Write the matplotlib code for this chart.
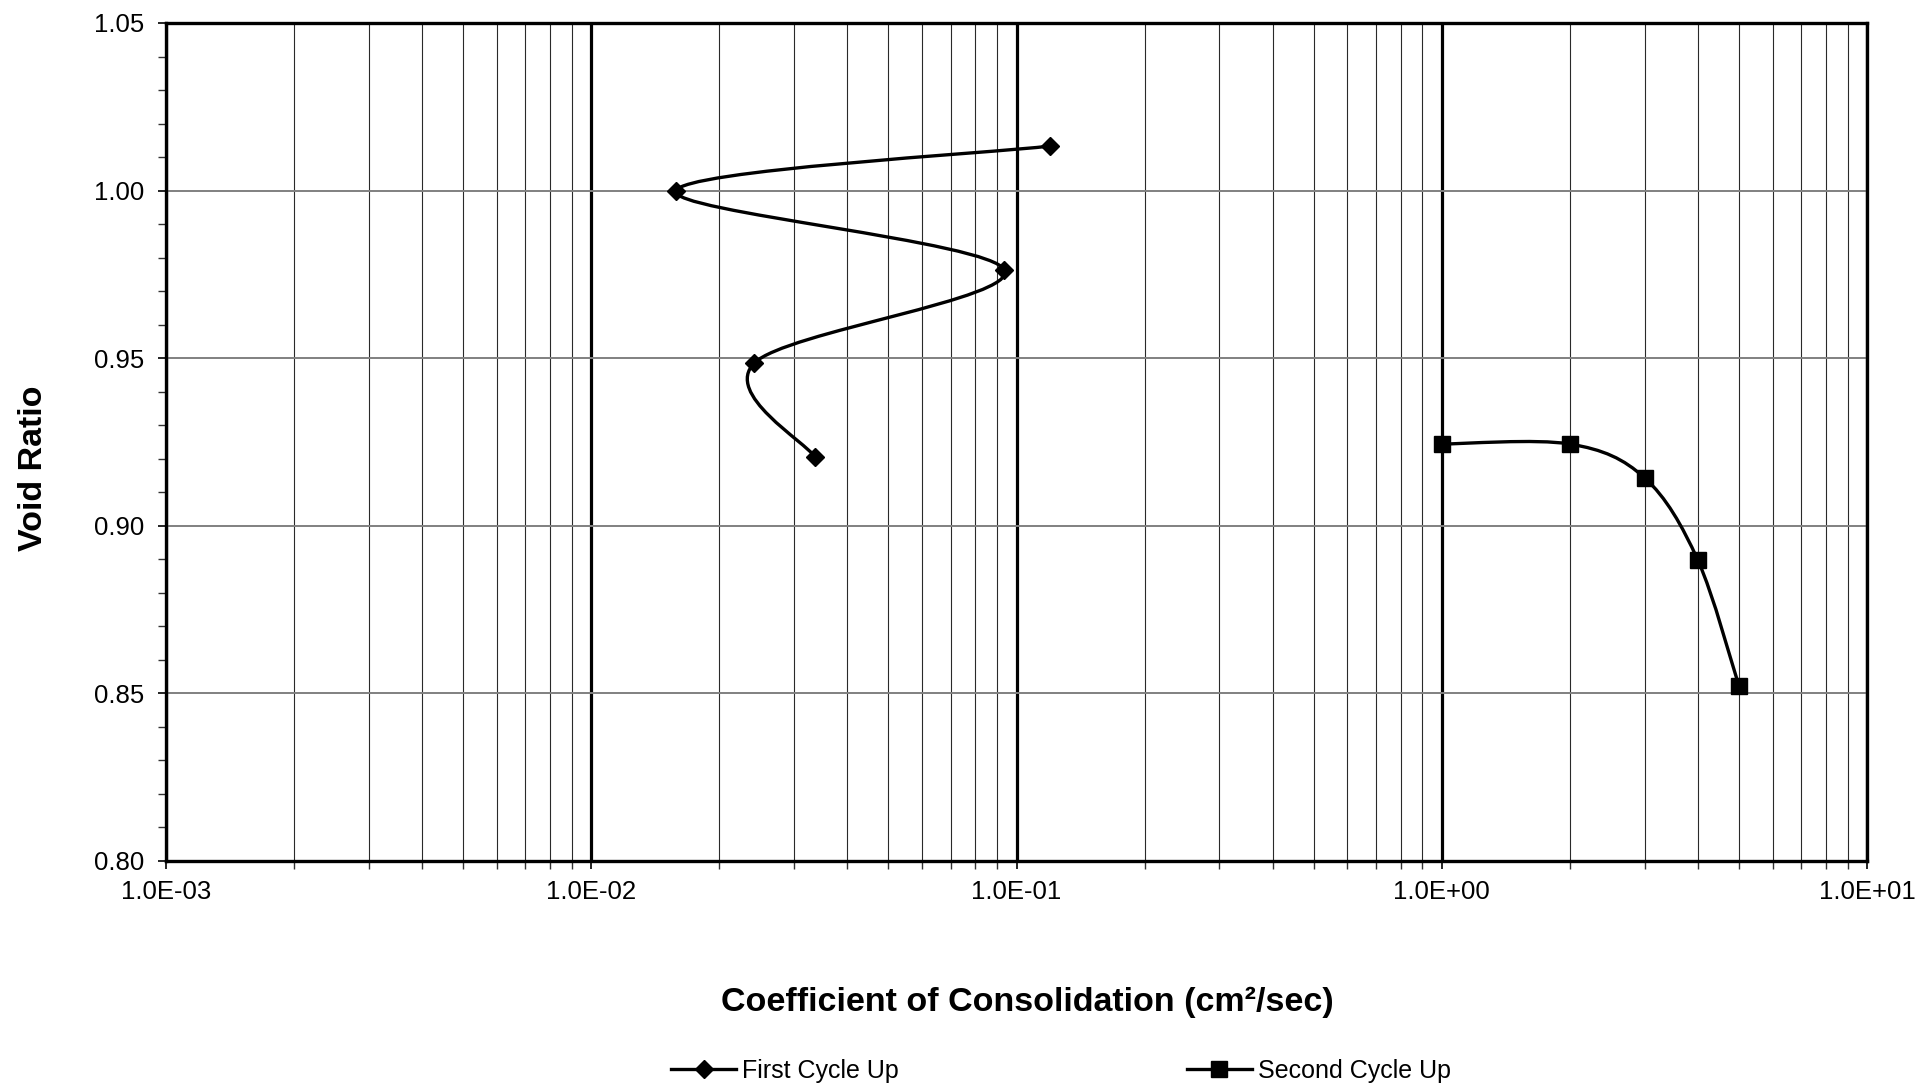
import numpy as np
import matplotlib
matplotlib.use("Agg")
import matplotlib.pyplot as plt
from matplotlib.path import Path
from matplotlib.patches import PathPatch
from matplotlib.lines import Line2D
from matplotlib.ticker import LogLocator, FixedLocator, MultipleLocator, NullFormatter

plt.rcParams['font.family'] = ['Liberation Sans', 'DejaVu Sans']

# ---- data ----
first_cv = [0.120, 0.0158, 0.0937, 0.0242, 0.0336]
first_e = [1.0133, 0.9999, 0.9763, 0.9486, 0.9205]
second_cv = [1.0, 2.0, 3.0, 4.0, 5.0]
second_e = [0.9244, 0.9244, 0.9143, 0.8898, 0.8522]
series_names = ["First Cycle Up", "Second Cycle Up"]
xtick_vals = [1e-3, 1e-2, 1e-1, 1e0, 1e1]
xtick_labels = ["1.0E-03", "1.0E-02", "1.0E-01", "1.0E+00", "1.0E+01"]
ytick_vals = [0.80, 0.85, 0.90, 0.95, 1.00, 1.05]
ytick_labels = ["0.80", "0.85", "0.90", "0.95", "1.00", "1.05"]
xlabel = "Coefficient of Consolidation (cm²/sec)"
ylabel = "Void Ratio"


def smooth_path(xs, ys):
    """Catmull-Rom style Bezier (Excel-like smoothed line) in log-x space."""
    lx = np.log10(np.asarray(xs, float))
    y = np.asarray(ys, float)
    P = np.column_stack([lx, y])
    n = len(P)
    verts = [P[0]]
    codes = [Path.MOVETO]
    for i in range(n - 1):
        p0 = P[i - 1] if i > 0 else P[i]
        p1 = P[i]
        p2 = P[i + 1]
        p3 = P[i + 2] if i + 2 < n else P[i + 1]
        c1 = p1 + (p2 - p0) / 6.0
        c2 = p2 - (p3 - p1) / 6.0
        verts += [c1, c2, p2]
        codes += [Path.CURVE4] * 3
    V = np.array(verts)
    V[:, 0] = 10 ** V[:, 0]
    return Path(V, codes)


fig = plt.figure(figsize=(19.26, 10.86), dpi=100)
ax = fig.add_axes([166 / 1926, 1 - 861 / 1086, (1867 - 166) / 1926, (861 - 23) / 1086])
ax.set_xscale('log')
ax.set_xlim(1e-3, 1e1)
ax.set_ylim(0.80, 1.05)

# grid
ax.xaxis.set_major_locator(FixedLocator(xtick_vals))
ax.xaxis.set_minor_locator(LogLocator(base=10, subs=np.arange(2, 10)))
ax.xaxis.set_minor_formatter(NullFormatter())
ax.set_xticklabels(xtick_labels)
ax.yaxis.set_major_locator(FixedLocator(ytick_vals))
ax.yaxis.set_minor_locator(MultipleLocator(0.01))
ax.set_yticklabels(ytick_labels)

ax.grid(True, which='major', axis='x', color='black', linewidth=2.3)
ax.grid(True, which='minor', axis='x', color='#2a2a2a', linewidth=0.8)
ax.grid(True, which='major', axis='y', color='#808080', linewidth=1.4)
ax.set_axisbelow(True)

for s in ax.spines.values():
    s.set_linewidth(2.4)
    s.set_color('black')

ax.tick_params(axis='both', which='major', direction='out', length=6, width=1.2,
               labelsize=18.5, color='black')
ax.tick_params(axis='both', which='minor', direction='out', length=6, width=1.0,
               color='#333333')
ax.tick_params(axis='x', which='major', pad=8)
ax.tick_params(axis='y', which='major', pad=10)

# series
for xs, ys, mk, ms in [(first_cv, first_e, 'D', 9.5), (second_cv, second_e, 's', 11)]:
    ax.add_patch(PathPatch(smooth_path(xs, ys), facecolor='none', edgecolor='black',
                           linewidth=2.4, zorder=3))
    ax.plot(xs, ys, linestyle='none', marker=mk, markersize=ms, color='black', zorder=4)

fig.text(1027 / 1926, 1 - 1002 / 1086, xlabel, ha='center', va='center',
         fontsize=24.5, fontweight='bold')
fig.text(34 / 1926, 1 - 468 / 1086, ylabel, ha='center', va='center', rotation=90,
         fontsize=24.5, fontweight='bold')

handles = [Line2D([], [], color='black', linewidth=2.4, marker='D', markersize=9),
           Line2D([], [], color='black', linewidth=2.4, marker='s', markersize=11)]
fig.legend(handles, series_names, loc='center', bbox_to_anchor=(1061 / 1926, 1 - 1071 / 1086),
           ncol=2, frameon=False, fontsize=18, handlelength=2.6, handletextpad=0.25,
           columnspacing=11.5)

fig.savefig('out.png', dpi=100)
